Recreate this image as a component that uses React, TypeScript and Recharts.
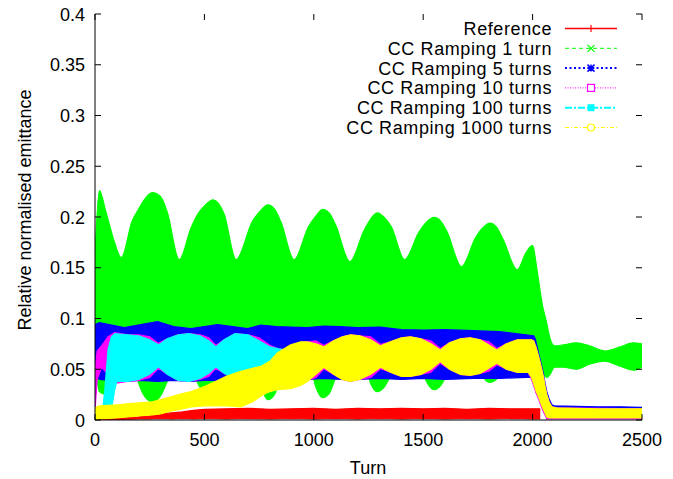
import { ComposedChart, Area, XAxis, YAxis } from 'recharts'

// gnuplot-style emittance plot: every run is a dense cloud of points, drawn
// here as a filled envelope band [lo, hi].

const FONT = '"Liberation Sans", Arial, Helvetica, sans-serif'

const seriesNames = [
  'Reference',
  'CC Ramping 1 turn',
  'CC Ramping 5 turns',
  'CC Ramping 10 turns',
  'CC Ramping 100 turns',
  'CC Ramping 1000 turns',
]
const xTicks = [0, 500, 1000, 1500, 2000, 2500]
const yTicks = [0, 0.05, 0.1, 0.15, 0.2, 0.25, 0.3, 0.35, 0.4]

// Reference
const refTurn = [0, 100, 200, 250, 300, 350, 400, 450, 500, 600, 700, 800, 900, 1000, 1100, 1200, 1300, 1400, 1500, 1600, 1700, 1800, 1900, 2000, 2035]
const refLo = [0, 0.0005, 0.001, 0.001, 0.0015, 0.001, 0.0015, 0.001, 0.0015, 0.001, 0.0015, 0.001, 0.0015, 0.001, 0.0015, 0.001, 0.0015, 0.001, 0.0015, 0.001, 0.0015, 0.001, 0.0015, 0.001, 0.001]
const refHi = [0.002, 0.002, 0.003, 0.004, 0.006, 0.007, 0.008, 0.0095, 0.0105, 0.011, 0.0115, 0.0105, 0.011, 0.0115, 0.0105, 0.0115, 0.011, 0.0115, 0.011, 0.0115, 0.0105, 0.0115, 0.011, 0.011, 0.011]

// CC Ramping 1 turn
const r1Turn = [0, 20, 50, 85, 120, 170, 200, 225, 262, 300, 330, 385, 440, 470, 505, 540, 590, 645, 720, 760, 790, 820, 850, 910, 975, 1010, 1040, 1070, 1100, 1165, 1230, 1260, 1290, 1320, 1355, 1415, 1480, 1515, 1550, 1580, 1610, 1675, 1740, 1775, 1805, 1835, 1865, 1930, 1970, 2000, 2020, 2045, 2065, 2080, 2100, 2140, 2200, 2260, 2330, 2400, 2460, 2500]
const r1Lo = [0.06, 0.028, 0.025, 0.06, 0.065, 0.06, 0.036, 0.024, 0.018, 0.024, 0.038, 0.065, 0.06, 0.036, 0.028, 0.032, 0.045, 0.065, 0.06, 0.032, 0.02, 0.025, 0.042, 0.065, 0.06, 0.032, 0.022, 0.026, 0.042, 0.065, 0.06, 0.036, 0.028, 0.032, 0.045, 0.065, 0.06, 0.038, 0.03, 0.034, 0.045, 0.065, 0.06, 0.042, 0.037, 0.04, 0.05, 0.065, 0.06, 0.05, 0.048, 0.046, 0.042, 0.045, 0.052, 0.052, 0.05, 0.055, 0.058, 0.053, 0.049, 0.052]
const r1Hi = [0.163, 0.226, 0.205, 0.178, 0.16, 0.196, 0.208, 0.217, 0.224, 0.22, 0.205, 0.158, 0.19, 0.203, 0.212, 0.217, 0.203, 0.158, 0.196, 0.207, 0.212, 0.208, 0.195, 0.158, 0.19, 0.201, 0.2076, 0.204, 0.192, 0.156, 0.187, 0.198, 0.204, 0.2, 0.19, 0.158, 0.185, 0.195, 0.1997, 0.196, 0.185, 0.151, 0.18, 0.19, 0.194, 0.19, 0.178, 0.148, 0.165, 0.172, 0.148, 0.113, 0.095, 0.08, 0.073, 0.074, 0.076, 0.073, 0.068, 0.072, 0.076, 0.075]

// CC Ramping 5 turns
const r5Turn = [0, 20, 134, 210, 286, 360, 438, 500, 560, 630, 697, 757, 830, 894, 970, 1046, 1122, 1200, 1305, 1400, 1503, 1600, 1730, 1850, 1970, 2005, 2012, 2027, 2035, 2050, 2057, 2065, 2075, 2088, 2100, 2200, 2300, 2400, 2500]
const r5Lo = [0.045, 0.04, 0.038, 0.039, 0.038, 0.039, 0.038, 0.039, 0.039, 0.04, 0.04, 0.04, 0.04, 0.04, 0.04, 0.041, 0.04, 0.04, 0.041, 0.04, 0.041, 0.04, 0.041, 0.041, 0.042, 0.042, 0.04, 0.028, 0.022, 0.012, 0.008, 0.005, 0.004, 0.003, 0.003, 0.003, 0.003, 0.003, 0.003]
const r5Hi = [0.094, 0.096, 0.091, 0.094, 0.097, 0.092, 0.09, 0.092, 0.094, 0.092, 0.09, 0.0936, 0.092, 0.0916, 0.091, 0.0925, 0.092, 0.091, 0.0915, 0.089, 0.0886, 0.089, 0.088, 0.087, 0.084, 0.083, 0.08, 0.066, 0.059, 0.045, 0.036, 0.028, 0.021, 0.015, 0.014, 0.0135, 0.013, 0.013, 0.0125]

// CC Ramping 10 turns
const r10Turn = [0, 10, 30, 60, 90, 150, 200, 250, 290, 330, 380, 430, 480, 520, 552, 590, 640, 700, 750, 800, 840, 870, 940, 970, 1010, 1046, 1090, 1130, 1168, 1210, 1260, 1305, 1350, 1400, 1442, 1490, 1535, 1578, 1620, 1670, 1715, 1760, 1800, 1837, 1880, 1930, 1980, 1995, 2005, 2015, 2027, 2035, 2050, 2057, 2065, 2075, 2088, 2110, 2500]
const r10Lo = [0.01, 0.04, 0.052, 0.045, 0.036, 0.038, 0.039, 0.042, 0.051, 0.045, 0.039, 0.038, 0.04, 0.043, 0.051, 0.046, 0.04, 0.04, 0.042, 0.0505, 0.048, 0.048, 0.04, 0.039, 0.042, 0.0505, 0.045, 0.04, 0.038, 0.04, 0.042, 0.0505, 0.047, 0.043, 0.043, 0.045, 0.047, 0.056, 0.05, 0.045, 0.044, 0.046, 0.048, 0.0545, 0.05, 0.047, 0.047, 0.04, 0.034, 0.027, 0.021, 0.016, 0.008, 0.005, 0.001, 0.001, 0.001, 0.001, 0.001]
const r10Hi = [0.05, 0.068, 0.073, 0.082, 0.086, 0.084, 0.084, 0.082, 0.0755, 0.08, 0.084, 0.085, 0.084, 0.081, 0.0735, 0.079, 0.085, 0.084, 0.081, 0.0735, 0.07, 0.069, 0.076, 0.077, 0.078, 0.0735, 0.078, 0.082, 0.084, 0.083, 0.082, 0.0745, 0.077, 0.081, 0.082, 0.08, 0.078, 0.0705, 0.076, 0.08, 0.081, 0.079, 0.077, 0.0705, 0.075, 0.079, 0.079, 0.079, 0.078, 0.072, 0.063, 0.056, 0.042, 0.033, 0.025, 0.018, 0.013, 0.012, 0.011]

// CC Ramping 100 turns
const r100Turn = [35, 45, 60, 75, 90, 100, 150, 200, 250, 290, 330, 380, 430, 480, 520, 552, 590, 640, 700, 750, 800, 840, 870]
const r100Lo = [0.008, 0.008, 0.009, 0.01, 0.03, 0.038, 0.038, 0.04, 0.045, 0.0525, 0.045, 0.039, 0.038, 0.041, 0.046, 0.0525, 0.046, 0.04, 0.04, 0.045, 0.052, 0.048, 0.05]
const r100Hi = [0.01, 0.03, 0.07, 0.082, 0.085, 0.085, 0.084, 0.083, 0.079, 0.074, 0.08, 0.084, 0.085, 0.083, 0.078, 0.072, 0.079, 0.085, 0.084, 0.078, 0.072, 0.07, 0.069]

// CC Ramping 1000 turns
const r1000Turn = [0, 20, 100, 200, 262, 300, 350, 400, 440, 500, 550, 600, 666, 720, 760, 800, 833, 894, 940, 970, 1010, 1046, 1090, 1130, 1168, 1210, 1260, 1305, 1350, 1400, 1442, 1490, 1535, 1578, 1620, 1670, 1715, 1760, 1800, 1837, 1880, 1930, 1980, 1995, 2005, 2015, 2027, 2035, 2050, 2057, 2065, 2075, 2088, 2110, 2200, 2300, 2400, 2500]
const r1000Lo = [0, 0.001, 0.002, 0.004, 0.005, 0.006, 0.009, 0.011, 0.013, 0.014, 0.014, 0.014, 0.013, 0.018, 0.024, 0.028, 0.03, 0.031, 0.034, 0.038, 0.045, 0.052, 0.045, 0.04, 0.038, 0.04, 0.045, 0.052, 0.047, 0.043, 0.043, 0.045, 0.05, 0.0575, 0.05, 0.045, 0.044, 0.046, 0.051, 0.056, 0.05, 0.047, 0.047, 0.042, 0.036, 0.029, 0.023, 0.018, 0.01, 0.007, 0.003, 0.002, 0.002, 0.002, 0.002, 0.002, 0.002, 0.002]
const r1000Hi = [0.012, 0.014, 0.015, 0.017, 0.018, 0.02, 0.023, 0.026, 0.028, 0.033, 0.038, 0.043, 0.048, 0.051, 0.053, 0.058, 0.066, 0.074, 0.077, 0.077, 0.075, 0.072, 0.078, 0.082, 0.084, 0.083, 0.079, 0.073, 0.077, 0.081, 0.082, 0.08, 0.075, 0.069, 0.076, 0.08, 0.081, 0.079, 0.074, 0.069, 0.075, 0.079, 0.079, 0.079, 0.078, 0.072, 0.063, 0.056, 0.042, 0.033, 0.025, 0.018, 0.013, 0.012, 0.0115, 0.011, 0.011, 0.011]

const band = (turns: number[], lo: number[], hi: number[]) =>
  turns.map((turn, i) => ({ turn, band: [lo[i], hi[i]] }))

const bands = [
  band(refTurn, refLo, refHi),
  band(r1Turn, r1Lo, r1Hi),
  band(r5Turn, r5Lo, r5Hi),
  band(r10Turn, r10Lo, r10Hi),
  band(r100Turn, r100Lo, r100Hi),
  band(r1000Turn, r1000Lo, r1000Hi),
]

// gnuplot default terminal colours / dash types / point types
const STYLE = [
  { color: '#ff0000', dash: undefined, lw: 1.6, point: 'plus', curve: 'linear' },
  { color: '#00ff00', dash: '4 3', lw: 1, point: 'cross', curve: 'monotone' },
  { color: '#0000ff', dash: '2 2.5', lw: 2, point: 'star', curve: 'linear' },
  { color: '#ff00ff', dash: '1 1.5', lw: 1, point: 'box', curve: 'linear' },
  { color: '#00ffff', dash: '7 2 2 2', lw: 2, point: 'fbox', curve: 'linear' },
  { color: '#ffff00', dash: '4 2 1 2', lw: 1, point: 'circle', curve: 'linear' },
] as const

const PLOT = { left: 95, right: 642, top: 14, bottom: 420 }
const TICK = 6
const TEXT = { fontFamily: FONT, fontSize: 18, fill: '#000' }

function XTick(p: any) {
  const x = p.x
  return (
    <g>
      <line x1={x} x2={x} y1={PLOT.bottom} y2={PLOT.bottom - TICK} stroke="#000" />
      <line x1={x} x2={x} y1={PLOT.top} y2={PLOT.top + TICK} stroke="#000" />
      <text x={x} y={446} textAnchor="middle" {...TEXT}>{p.payload.value}</text>
    </g>
  )
}

function YTick(p: any) {
  const y = p.y
  return (
    <g>
      <line x1={PLOT.left} x2={PLOT.left + TICK} y1={y} y2={y} stroke="#000" />
      <line x1={PLOT.right} x2={PLOT.right - TICK} y1={y} y2={y} stroke="#000" />
      <text x={85} y={y + 6.5} textAnchor="end" {...TEXT}>{p.payload.value}</text>
    </g>
  )
}

function Point({ kind, x, y, color }: { kind: string; x: number; y: number; color: string }) {
  const r = 3.5
  if (kind === 'plus') return <path d={`M${x - r} ${y}H${x + r}M${x} ${y - r}V${y + r}`} stroke={color} strokeWidth={1.2} />
  if (kind === 'cross') return <path d={`M${x - r} ${y - r}L${x + r} ${y + r}M${x - r} ${y + r}L${x + r} ${y - r}`} stroke={color} strokeWidth={1.2} />
  if (kind === 'star') return <path d={`M${x - r} ${y}H${x + r}M${x} ${y - r}V${y + r}M${x - r} ${y - r}L${x + r} ${y + r}M${x - r} ${y + r}L${x + r} ${y - r}`} stroke={color} strokeWidth={1.5} />
  if (kind === 'box') return <rect x={x - r} y={y - r} width={2 * r} height={2 * r} fill="#fff" stroke={color} strokeWidth={1.2} />
  if (kind === 'fbox') return <rect x={x - r} y={y - r} width={2 * r} height={2 * r} fill={color} />
  return <circle cx={x} cy={y} r={r} fill="#fff" stroke={color} strokeWidth={1.2} />
}

function Key() {
  return (
    <svg width={673} height={479} style={{ position: 'absolute', left: 0, top: 0, pointerEvents: 'none' }}>
      {seriesNames.map((name, i) => {
        const y = 28.5 + i * 19.8
        const s = STYLE[i]
        return (
          <g key={name}>
            <text x={552} y={y + 6.5} textAnchor="end" letterSpacing={0.6} {...TEXT}>{name}</text>
            <line x1={565} x2={617} y1={y} y2={y} stroke={s.color} strokeWidth={s.lw} strokeDasharray={s.dash} />
            <Point kind={s.point} x={591} y={y} color={s.color} />
          </g>
        )
      })}
    </svg>
  )
}

export default function App() {
  return (
    <div style={{ position: 'absolute', left: 0, top: 0, width: 673, height: 479, background: '#fff' }}>
      <ComposedChart width={673} height={479} margin={{ top: 14, right: 31, bottom: 0, left: 0 }}>
        {bands.map((d, i) => (
          <Area
            key={seriesNames[i]}
            name={seriesNames[i]}
            data={d}
            dataKey="band"
            type={STYLE[i].curve}
            fill={STYLE[i].color}
            fillOpacity={1}
            stroke={STYLE[i].color}
            strokeWidth={1.2}
            dot={false}
            activeDot={false}
            isAnimationActive={false}
          />
        ))}
        <XAxis
          dataKey="turn"
          type="number"
          domain={[0, 2500]}
          ticks={xTicks}
          interval={0}
          height={59}
          tick={XTick}
          tickLine={false}
          axisLine={{ stroke: '#000' }}
          allowDataOverflow
          label={{ content: () => <text x={368} y={474} textAnchor="middle" {...TEXT}>Turn</text> }}
        />
        <XAxis xAxisId="top" orientation="top" type="number" domain={[0, 2500]} height={0} tick={false} tickLine={false} axisLine={{ stroke: '#000' }} />
        <YAxis
          type="number"
          domain={[0, 0.4]}
          ticks={yTicks}
          interval={0}
          width={95}
          tick={YTick}
          tickLine={false}
          axisLine={{ stroke: '#000' }}
          allowDataOverflow
          label={{
            content: () => (
              <text x={31} y={210} textAnchor="middle" transform="rotate(-90 31 210)" {...TEXT}>
                Relative normalised emittance
              </text>
            ),
          }}
        />
        <YAxis yAxisId="right" orientation="right" type="number" domain={[0, 0.4]} width={0} tick={false} tickLine={false} axisLine={{ stroke: '#000' }} />
      </ComposedChart>
      <Key />
    </div>
  )
}
